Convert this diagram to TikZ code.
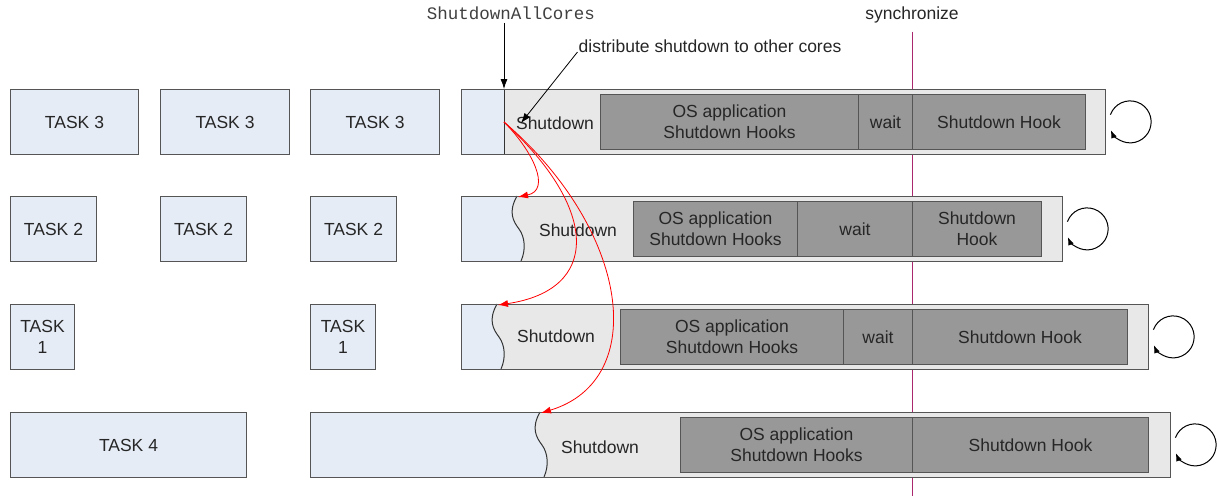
\documentclass[tikz,border=0pt]{standalone}
\usepackage{fontspec}
\setmainfont{Liberation Sans}
\setmonofont{Liberation Mono}
\usetikzlibrary{arrows.meta, positioning, calc}
\definecolor{taskblue}{RGB}{230,236,246}
\definecolor{bargray}{RGB}{232,232,232}
\definecolor{phasegray}{RGB}{152,152,152}
\definecolor{edgegray}{RGB}{85,85,85}
\definecolor{syncpurple}{RGB}{170,40,110}
\tikzset{%
	task/.style={draw=edgegray, fill=taskblue, line width=1pt, anchor=north west,
		minimum height=65pt, align=center, inner sep=2pt},
	bar/.style={fill=bargray, anchor=north west, minimum height=65pt, inner sep=0pt},
	phase/.style={draw=edgegray, fill=phasegray, line width=1pt, anchor=north west,
		minimum height=55pt, align=center, inner sep=2pt},
	border/.style={draw=edgegray, line width=1pt},
	wave/.style={draw=black!80, line width=1pt},
	call/.style={-{Latex[length=10pt,width=7pt]}, line width=0.8pt},
	spread/.style={-{Latex[length=10pt,width=7pt]}, red, line width=0.8pt},
	selfloop/.style={-{Latex[length=8pt,width=6pt]}, line width=1pt},
	syncline/.style={draw=syncpurple, line width=0.8pt}
}
% blue part of a core bar, ending in a wavy edge
\newcommand{\corestart}[3]{%
	\fill[taskblue] (#1,#3) -- (#2,#3) .. controls ({#2-9},{#3+16}) and ({#2-4},{#3+25}) .. ({#2+2},{#3+33})
		.. controls ({#2+8},{#3+41}) and ({#2+9},{#3+54}) .. ({#2+4},{#3+65}) -- (#1,{#3+65}) -- cycle;
	\draw[wave] (#2,#3) .. controls ({#2-9},{#3+16}) and ({#2-4},{#3+25}) .. ({#2+2},{#3+33})
		.. controls ({#2+8},{#3+41}) and ({#2+9},{#3+54}) .. ({#2+4},{#3+65});
}

\begin{document}
\begin{tikzpicture}[x=1pt, y=-1pt, font=\fontsize{17.5}{21}\selectfont, text=black!85]
	\useasboundingbox (0,0) rectangle (1217,496);

	%synchronize
	\node (sync) at (912,15) {synchronize};
	\coordinate (syncbot) at (912,496);
	\draw[syncline] ([yshift=-5pt]sync.south) -- (syncbot);

	%tasks
	\node [task, minimum width=128pt] (t3a) at (10,89) {TASK 3};
	\node [task, minimum width=129pt] (t3b) at (160,89) {TASK 3};
	\node [task, minimum width=129pt] (t3c) at (310,89) {TASK 3};
	\node [task, minimum width=86pt] (t2a) at (10,196) {TASK 2};
	\node [task, minimum width=86pt] (t2b) at (160,196) {TASK 2};
	\node [task, minimum width=86pt] (t2c) at (310,196) {TASK 2};
	\node [task, minimum width=64pt] (t1a) at (10,304) {TASK\\1};
	\node [task, minimum width=65pt] (t1b) at (310,304) {TASK\\1};
	\node [task, minimum width=236pt] (t4a) at (10,412) {TASK 4};

	%cores
	\node [bar, minimum width=644pt] (core1) at (461,89) {};
	\node [bar, minimum width=601pt] (core2) at (461,196) {};
	\node [bar, minimum width=687pt] (core3) at (461,304) {};
	\node [bar, minimum width=860pt] (core4) at (310,412) {};
	\coordinate (split1) at (504,89);
	\fill[taskblue] (461,89) rectangle (504,154);
	\draw[wave] (split1) -- (504,154);
	\corestart{461}{517}{196}
	\corestart{461}{497}{304}
	\corestart{310}{540}{412}
	\foreach \c in {core1,core2,core3,core4}
		\draw[border] (\c.north west) rectangle (\c.south east);

	%shutdown phases
	\node [phase, minimum width=258pt] (osh1) at (600,94) {OS application\\Shutdown Hooks};
	\node [phase, minimum width=54pt] (wait1) at (858,94) {wait};
	\node [phase, minimum width=173pt] (hook1) at (912,94) {Shutdown Hook};
	\node [phase, minimum width=164pt] (osh2) at (633,201) {OS application\\Shutdown Hooks};
	\node [phase, minimum width=115pt] (wait2) at (797,201) {wait};
	\node [phase, minimum width=129pt] (hook2) at (912,201) {Shutdown\\Hook};
	\node [phase, minimum width=223pt] (osh3) at (620,309) {OS application\\Shutdown Hooks};
	\node [phase, minimum width=69pt] (wait3) at (843,309) {wait};
	\node [phase, minimum width=215pt] (hook3) at (912,309) {Shutdown Hook};
	\node [phase, minimum width=232pt] (osh4) at (680,417) {OS application\\Shutdown Hooks};
	\node [phase, minimum width=236pt] (hook4) at (912,417) {Shutdown Hook};

	\node (sd1) at (555,123) {Shutdown};
	\node (sd2) at (578,230) {Shutdown};
	\node (sd3) at (556,336) {Shutdown};
	\node (sd4) at (600,447) {Shutdown};

	%calls
	\node [font=\fontsize{17.5}{21}\ttfamily, text=black!75] (sac) at (511,13) {ShutdownAllCores};
	\draw[call] (sac.south -| split1) -- (split1);
	\node [inner sep=1pt] (dist) at (710,46) {distribute shutdown to other cores};
	\coordinate (distend) at (521,123);
	\draw[call] ([yshift=-6pt]dist.west) -- (distend);

	%distribution
	\coordinate (redstart) at (504,122);
	\coordinate (w2) at (518,197);
	\coordinate (w3) at (498,305);
	\coordinate (w4) at (541,413);
	\draw[spread] (redstart) .. controls (532,150) and (552,190) .. (w2);
	\draw[spread] (redstart) .. controls (600,210) and (600,290) .. (w3);
	\draw[spread] (redstart) .. controls (630,230) and (650,380) .. (w4);

	%loops
	\foreach \c in {core1,core2,core3,core4}
		\draw[selfloop] ([shift={(5,-7)}]\c.east) arc[start angle=-160, end angle=157, radius=21];
\end{tikzpicture}
\end{document}
